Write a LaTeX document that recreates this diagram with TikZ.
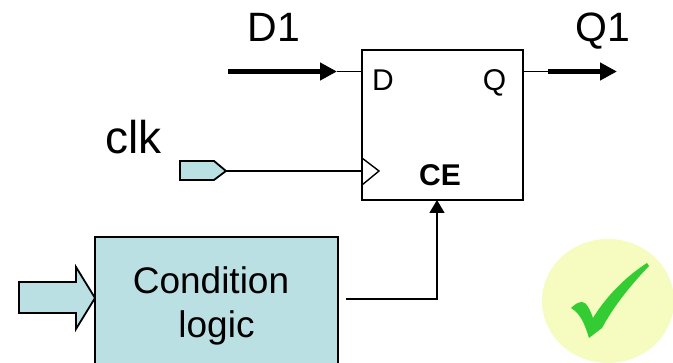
\documentclass[tikz,border=0pt]{standalone}
\usepackage{fontspec}
\setmainfont{Liberation Sans}
\usetikzlibrary{arrows.meta}

\definecolor{pinblue}{HTML}{BBE0E3}
\definecolor{okyellow}{HTML}{F6FCC0}
\definecolor{okgreen}{HTML}{33CC33}

\tikzset{
  wire/.style={draw=black, line width=1.4pt},
  bus/.style={draw=black, line width=5pt, -{Triangle[length=17pt, width=17pt]}},
  tipped/.style={wire, -{Triangle[length=13pt, width=15pt]}},
  pin/.style={draw=black, fill=pinblue, line width=1.8pt, line join=miter},
  label/.style={font=\fontsize{41}{41}\selectfont, inner sep=0pt, anchor=base},
  portname/.style={font=\fontsize{30}{30}\selectfont, inner sep=0pt, anchor=base}
}

\begin{document}
\begin{tikzpicture}[x=1pt, y=-1pt]
  \useasboundingbox (0,0) rectangle (673,363);
  \clip (0,0) rectangle (673,363);

  % flip-flop
  \node[draw=black, line width=1.8pt, minimum width=161pt, minimum height=150pt, inner sep=0pt] (ff) at (442.5,125) {};
  \node[portname] (portd) at (383,91) {D};
  \node[portname] (portq) at (494.5,91) {Q};
  \node[portname, font=\fontsize{30}{30}\selectfont\bfseries] (portce) at (440,186) {CE};
  \coordinate (ffd) at (ff.west |- 0,71.5);
  \coordinate (ffq) at (ff.east |- 0,71.5);
  \coordinate (ffclk) at (ff.west |- 0,171);
  \coordinate (ffce) at (437,200);
  \draw[wire] (362,158) -- (379,171) -- (362,185);

  % data lines
  \coordinate (din) at (228,71.5);
  \coordinate (dtip) at (337,71.5);
  \coordinate (qstart) at (548,71.5);
  \coordinate (qout) at (617,71.5);
  \draw[bus] (din) -- (dtip);
  \draw[wire] (dtip) -- (ffd);
  \draw[wire] (ffq) -- (qstart);
  \draw[bus] (qstart) -- (qout);
  \node[label] (d1) at (274,42) {D1};
  \node[label] (q1) at (603,42) {Q1};

  % clock pin
  \node[label, font=\fontsize{46}{46}\selectfont] (clk) at (133.5,154) {clk};
  \coordinate (clkpin) at (226,171);
  \draw[pin] (180,161) -- (214,161) -- (clkpin) -- (214,180) -- (180,180) -- cycle;
  \draw[wire] (clkpin) -- (ffclk);

  % condition logic
  \node[draw=black, fill=pinblue, line width=1.8pt, minimum width=243pt, minimum height=138pt, inner sep=0pt,
        font=\fontsize{37}{44}\selectfont, align=center] (logic) at (216.5,306) {\hspace*{-11pt}Condition\\logic};
  \draw[pin] (19,282) -- (76,282) -- (76,267) -- (95,298) -- (76,329) -- (76,313) -- (19,313) -- cycle;
  \coordinate (logicout) at (346,299);
  \draw[tipped] (logicout) -| (ffce);

  % check mark
  \fill[okyellow] (608,301) ellipse [x radius=66, y radius=62];
  \fill[okgreen] (571,308) .. controls (575,304) and (579,302) .. (582,302)
    .. controls (586,302) and (590,309) .. (593,318)
    .. controls (605,298) and (625,277) .. (647,263)
    -- (649,266)
    .. controls (630,286) and (614,306) .. (602,328)
    -- (589,338)
    .. controls (585,325) and (581,314) .. (571,308) -- cycle;
\end{tikzpicture}
\end{document}
